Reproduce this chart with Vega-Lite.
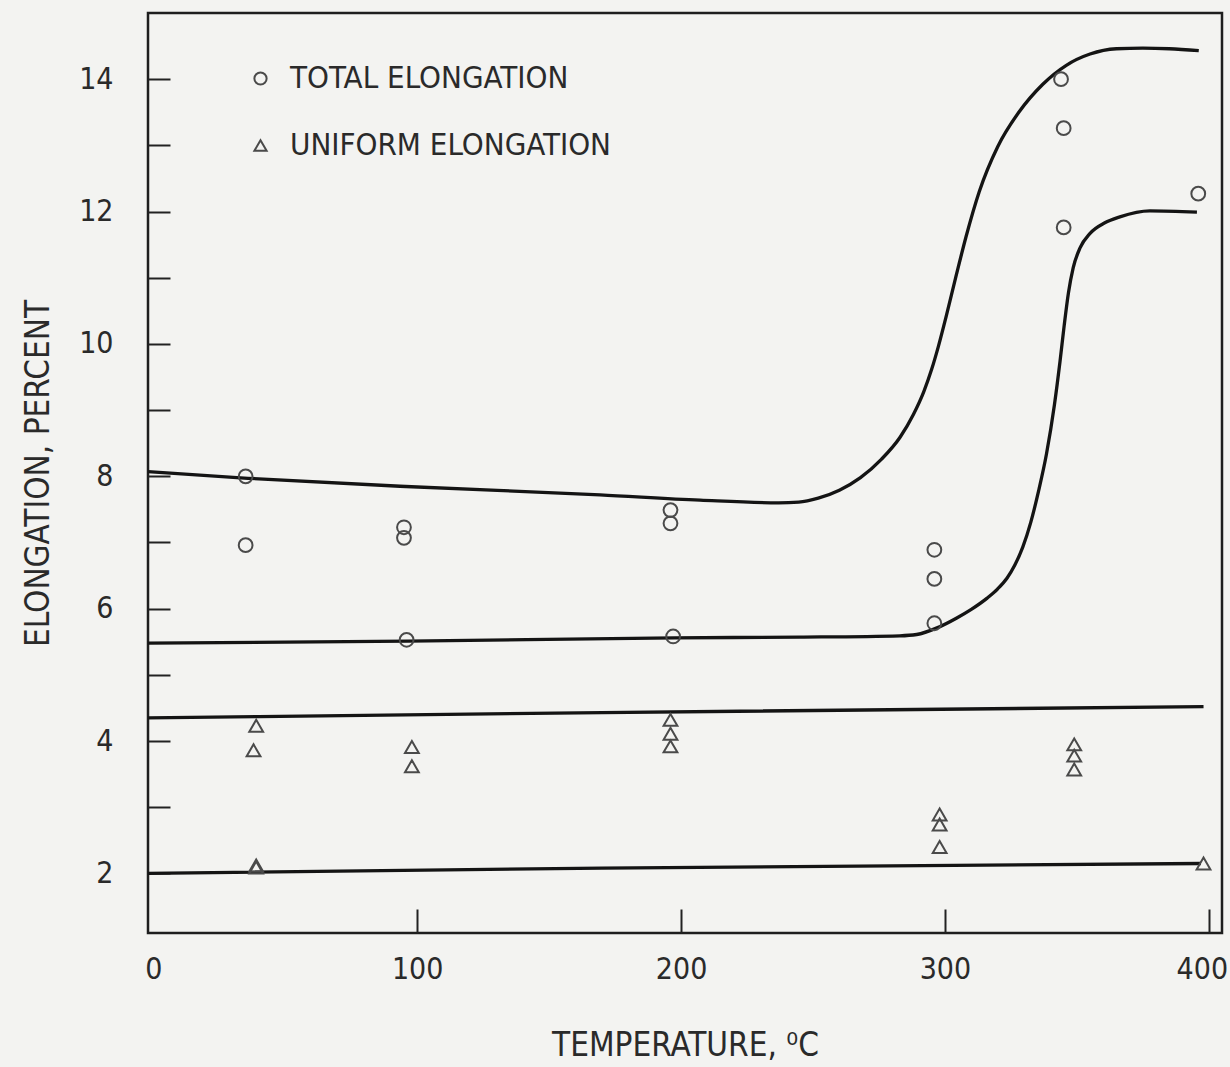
{
  "$schema": "https://vega.github.io/schema/vega-lite/v6.json",
  "width": 1074,
  "height": 920,
  "autosize": {"type": "none"},
  "padding": {"left": 148, "top": 13, "right": 8, "bottom": 134},
  "background": "#f3f3f1",
  "config": {
    "view": {"stroke": "#1e1e1e", "strokeWidth": 2.5, "fill": null},
    "font": "Liberation Sans Narrow, DejaVu Sans Condensed, sans-serif",
    "axis": {
      "domain": false,
      "grid": false,
      "tickColor": "#222222",
      "tickWidth": 2,
      "labelColor": "#2a2a2a",
      "titleColor": "#2a2a2a",
      "labelFont": "Liberation Sans Narrow, DejaVu Sans Condensed, sans-serif",
      "titleFont": "Liberation Sans Narrow, DejaVu Sans Condensed, sans-serif",
      "labelFontSize": 30,
      "titleFontSize": 33,
      "titleFontWeight": "normal"
    },
    "legend": {
      "labelFont": "Liberation Sans Narrow, DejaVu Sans Condensed, sans-serif",
      "labelFontSize": 31,
      "labelColor": "#2a2a2a",
      "labelLimit": 0
    }
  },
  "datasets": {
    "curves": [
      {"curve": "total-upper", "t": -2, "e": 8.07},
      {"curve": "total-upper", "t": 35.9, "e": 7.97},
      {"curve": "total-upper", "t": 93.5, "e": 7.85},
      {"curve": "total-upper", "t": 169.3, "e": 7.72},
      {"curve": "total-upper", "t": 207.2, "e": 7.64},
      {"curve": "total-upper", "t": 237.0, "e": 7.6},
      {"curve": "total-upper", "t": 244.6, "e": 7.61},
      {"curve": "total-upper", "t": 252.0, "e": 7.67},
      {"curve": "total-upper", "t": 260.0, "e": 7.79},
      {"curve": "total-upper", "t": 268.0, "e": 7.98},
      {"curve": "total-upper", "t": 276.0, "e": 8.26},
      {"curve": "total-upper", "t": 283.0, "e": 8.59},
      {"curve": "total-upper", "t": 288.0, "e": 8.93},
      {"curve": "total-upper", "t": 292.0, "e": 9.28},
      {"curve": "total-upper", "t": 295.0, "e": 9.62},
      {"curve": "total-upper", "t": 297.5, "e": 9.96},
      {"curve": "total-upper", "t": 300.5, "e": 10.42},
      {"curve": "total-upper", "t": 304.0, "e": 10.99},
      {"curve": "total-upper", "t": 308.0, "e": 11.62},
      {"curve": "total-upper", "t": 313.0, "e": 12.3},
      {"curve": "total-upper", "t": 320.0, "e": 12.98},
      {"curve": "total-upper", "t": 328.0, "e": 13.5},
      {"curve": "total-upper", "t": 337.0, "e": 13.92},
      {"curve": "total-upper", "t": 346.0, "e": 14.21},
      {"curve": "total-upper", "t": 355.0, "e": 14.38},
      {"curve": "total-upper", "t": 365.0, "e": 14.46},
      {"curve": "total-upper", "t": 375.0, "e": 14.47},
      {"curve": "total-upper", "t": 385.0, "e": 14.46},
      {"curve": "total-upper", "t": 396.2, "e": 14.43},
      {"curve": "total-lower", "t": -2, "e": 5.48},
      {"curve": "total-lower", "t": 96.5, "e": 5.51},
      {"curve": "total-lower", "t": 197.7, "e": 5.56},
      {"curve": "total-lower", "t": 245.0, "e": 5.57},
      {"curve": "total-lower", "t": 282.9, "e": 5.59},
      {"curve": "total-lower", "t": 289.3, "e": 5.61},
      {"curve": "total-lower", "t": 297.0, "e": 5.71},
      {"curve": "total-lower", "t": 304.5, "e": 5.86},
      {"curve": "total-lower", "t": 310.0, "e": 5.99},
      {"curve": "total-lower", "t": 316.0, "e": 6.16},
      {"curve": "total-lower", "t": 320.0, "e": 6.3},
      {"curve": "total-lower", "t": 323.5, "e": 6.46},
      {"curve": "total-lower", "t": 326.5, "e": 6.66},
      {"curve": "total-lower", "t": 329.5, "e": 6.93},
      {"curve": "total-lower", "t": 332.5, "e": 7.3},
      {"curve": "total-lower", "t": 335.5, "e": 7.78},
      {"curve": "total-lower", "t": 338.5, "e": 8.34},
      {"curve": "total-lower", "t": 341.5, "e": 9.08},
      {"curve": "total-lower", "t": 343.6, "e": 9.73},
      {"curve": "total-lower", "t": 345.2, "e": 10.28},
      {"curve": "total-lower", "t": 346.8, "e": 10.77},
      {"curve": "total-lower", "t": 348.6, "e": 11.15},
      {"curve": "total-lower", "t": 351.2, "e": 11.45},
      {"curve": "total-lower", "t": 355.0, "e": 11.67},
      {"curve": "total-lower", "t": 360.6, "e": 11.83},
      {"curve": "total-lower", "t": 366.3, "e": 11.92},
      {"curve": "total-lower", "t": 377.7, "e": 12.01},
      {"curve": "total-lower", "t": 395.5, "e": 11.99},
      {"curve": "uniform-upper", "t": -2, "e": 4.35},
      {"curve": "uniform-upper", "t": 170, "e": 4.43},
      {"curve": "uniform-upper", "t": 398, "e": 4.52},
      {"curve": "uniform-lower", "t": -2, "e": 2.0},
      {"curve": "uniform-lower", "t": 170, "e": 2.08},
      {"curve": "uniform-lower", "t": 397, "e": 2.15}
    ],
    "obs": [
      {"measure": "TOTAL ELONGATION", "t": 35, "e": 8.0},
      {"measure": "TOTAL ELONGATION", "t": 35, "e": 6.96},
      {"measure": "TOTAL ELONGATION", "t": 95, "e": 7.23},
      {"measure": "TOTAL ELONGATION", "t": 95, "e": 7.07},
      {"measure": "TOTAL ELONGATION", "t": 96, "e": 5.53},
      {"measure": "TOTAL ELONGATION", "t": 196, "e": 7.49},
      {"measure": "TOTAL ELONGATION", "t": 196, "e": 7.29},
      {"measure": "TOTAL ELONGATION", "t": 197, "e": 5.58},
      {"measure": "TOTAL ELONGATION", "t": 296, "e": 6.89},
      {"measure": "TOTAL ELONGATION", "t": 296, "e": 6.45},
      {"measure": "TOTAL ELONGATION", "t": 296, "e": 5.78},
      {"measure": "TOTAL ELONGATION", "t": 344, "e": 14.0},
      {"measure": "TOTAL ELONGATION", "t": 345, "e": 13.26},
      {"measure": "TOTAL ELONGATION", "t": 345, "e": 11.76},
      {"measure": "TOTAL ELONGATION", "t": 396, "e": 12.27},
      {"measure": "UNIFORM ELONGATION", "t": 39, "e": 4.23},
      {"measure": "UNIFORM ELONGATION", "t": 38, "e": 3.86},
      {"measure": "UNIFORM ELONGATION", "t": 39, "e": 2.12},
      {"measure": "UNIFORM ELONGATION", "t": 39, "e": 2.09},
      {"measure": "UNIFORM ELONGATION", "t": 98, "e": 3.91},
      {"measure": "UNIFORM ELONGATION", "t": 98, "e": 3.62},
      {"measure": "UNIFORM ELONGATION", "t": 196, "e": 4.32},
      {"measure": "UNIFORM ELONGATION", "t": 196, "e": 4.11},
      {"measure": "UNIFORM ELONGATION", "t": 196, "e": 3.92},
      {"measure": "UNIFORM ELONGATION", "t": 298, "e": 2.89},
      {"measure": "UNIFORM ELONGATION", "t": 298, "e": 2.74},
      {"measure": "UNIFORM ELONGATION", "t": 298, "e": 2.4},
      {"measure": "UNIFORM ELONGATION", "t": 349, "e": 3.95},
      {"measure": "UNIFORM ELONGATION", "t": 349, "e": 3.78},
      {"measure": "UNIFORM ELONGATION", "t": 349, "e": 3.57},
      {"measure": "UNIFORM ELONGATION", "t": 398, "e": 2.15}
    ]
  },
  "layer": [
    {
      "data": {"name": "curves"},
      "mark": {"type": "line", "interpolate": "monotone", "color": "#141414", "strokeWidth": 3.3, "clip": true},
      "encoding": {
        "x": {
          "field": "t",
          "type": "quantitative",
          "scale": {"domain": [-2, 405], "nice": false, "zero": false},
          "axis": {
            "values": [0, 100, 200, 300, 400],
            "format": "d",
            "tickSize": -24,
            "tickColor": {"condition": {"test": "datum.value === 0", "value": "transparent"}, "value": "#222222"},
            "labelPadding": 45,
            "labelFlush": false,
            "labelOffset": {"condition": {"test": "datum.value === 400", "value": -7}, "value": 0},
            "title": "TEMPERATURE, ⁰C",
            "titlePadding": 45
          }
        },
        "y": {
          "field": "e",
          "type": "quantitative",
          "scale": {"domain": [1.1, 15.0], "nice": false, "zero": false},
          "axis": {
            "values": [2, 3, 4, 5, 6, 7, 8, 9, 10, 11, 12, 13, 14],
            "format": "d",
            "labelExpr": "datum.value % 2 === 0 ? datum.label : ''",
            "tickSize": -22,
            "labelPadding": 57,
            "title": "ELONGATION, PERCENT",
            "titlePadding": 23
          }
        },
        "detail": {"field": "curve", "type": "nominal"}
      }
    },
    {
      "data": {"name": "obs"},
      "mark": {"type": "point", "filled": false, "strokeWidth": 2, "color": "#4a4a4a", "opacity": 1, "size": 190},
      "encoding": {
        "x": {"field": "t", "type": "quantitative"},
        "y": {"field": "e", "type": "quantitative"},
        "shape": {
          "field": "measure",
          "type": "nominal",
          "scale": {"domain": ["TOTAL ELONGATION", "UNIFORM ELONGATION"], "range": ["circle", "triangle-up"]},
          "legend": {
            "title": null,
            "orient": "none",
            "legendX": 97,
            "legendY": 50,
            "padding": 0,
            "rowPadding": 35,
            "labelOffset": 14,
            "symbolSize": 150,
            "symbolStrokeColor": "#4a4a4a",
            "symbolFillColor": null,
            "symbolStrokeWidth": 2
          }
        }
      }
    }
  ]
}
